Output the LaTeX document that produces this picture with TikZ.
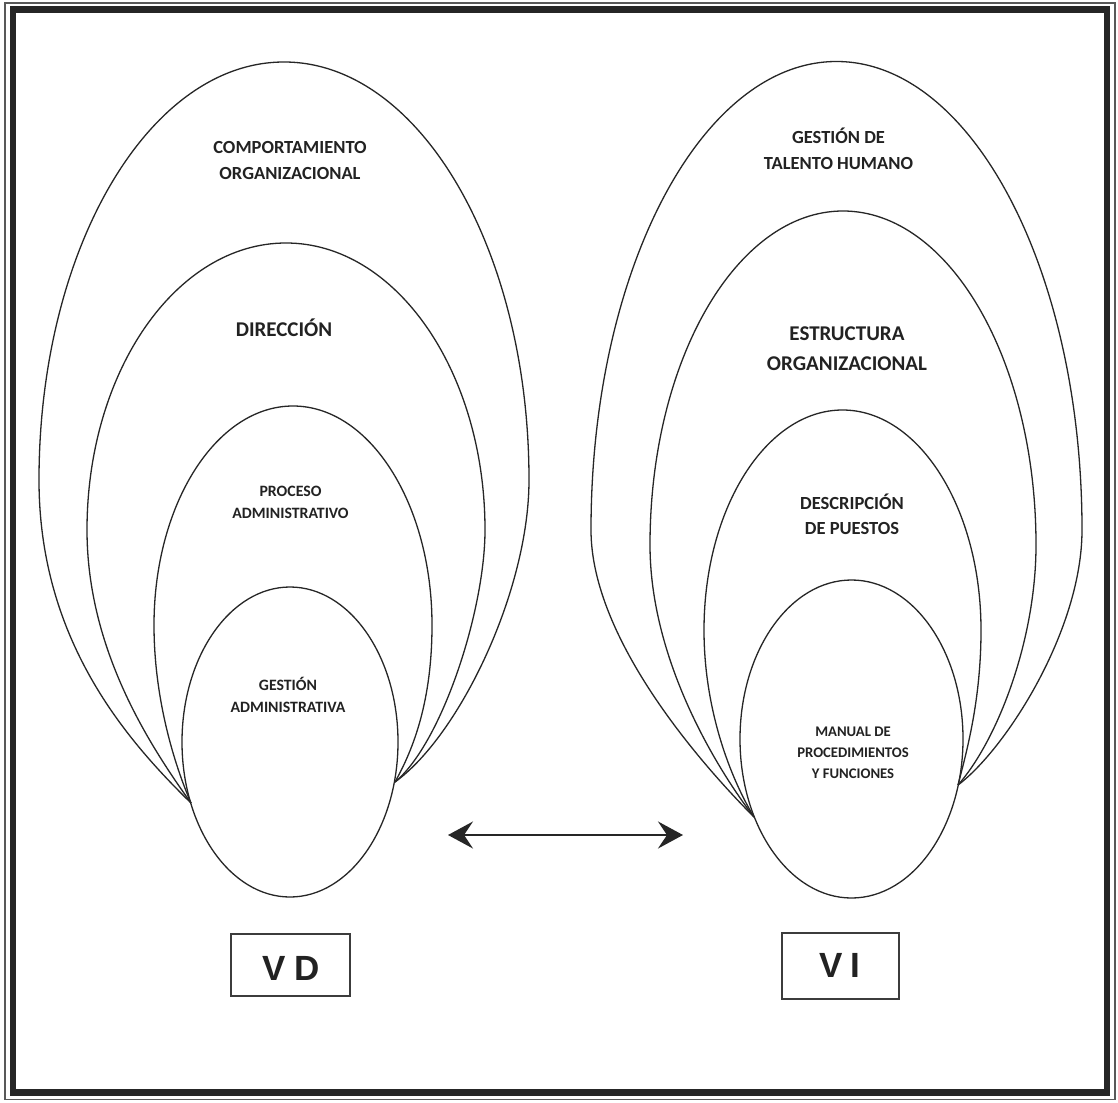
\documentclass[tikz,border=0pt]{standalone}
\usepackage{fontspec}
\setmainfont{Carlito}
\newfontfamily\vfont{Liberation Sans}
\usetikzlibrary{arrows.meta}
\definecolor{ink}{HTML}{262626}
\definecolor{txt}{HTML}{222222}
\begin{document}
\begin{tikzpicture}[x=1pt,y=-1pt,
  oval/.style={draw=ink, line width=1.3pt},
  lab/.style={anchor=base, inner sep=0pt, text=txt, font=\bfseries\fontsize{#1}{#1}\selectfont},
  vbox/.style={draw=ink!90, line width=2pt, inner sep=0pt},
  vtext/.style={inner sep=0pt, text=txt, font=\vfont\bfseries\fontsize{35}{35}\selectfont},
  dblarrow/.style={line width=2pt, draw=ink,
    arrows={Stealth[length=25pt,width=27pt,inset=9pt]-Stealth[length=25pt,width=27pt,inset=9pt]}}
]
\fill[white] (0,0) rectangle (1118,1102);
\useasboundingbox (0,0) rectangle (1118,1102);
% frame
\draw[line width=1.3pt, draw=gray!70!black] (5,3) rectangle (1115,1099.5);
\draw[line width=6.5pt, draw=ink] (13,9.5) rectangle (1107,1092.5);

% ---------- left set ----------
\draw[oval] (191,803) .. controls (126.5,740) and (39,640) .. (39,480)
  arc[start angle=180, end angle=0, x radius=245pt, y radius=418pt]
  .. controls (529,590) and (460,735) .. (395,782);
\draw[oval] (191,803) .. controls (150.4,746.3) and (87,650) .. (87,530)
  arc[start angle=180, end angle=0, x radius=199pt, y radius=287pt]
  .. controls (485,610) and (442,743) .. (395,782);
\draw[oval] (191,803) .. controls (175,766) and (154,700) .. (154,625)
  arc[start angle=180, end angle=0, x radius=139pt, y radius=219pt]
  .. controls (432,700) and (414,748) .. (395,782);
\draw[oval] (290,742) ellipse [x radius=108pt, y radius=155pt];

% ---------- right set ----------
\draw[oval] (754,817) .. controls (704,767) and (591,640) .. (591,530)
  arc[start angle=180, end angle=0, x radius=245.5pt, y radius=468.5pt]
  .. controls (1082,630) and (1006,749) .. (958,785);
\draw[oval] (754,817) .. controls (717,769) and (650,660) .. (650,545)
  arc[start angle=180, end angle=0, x radius=193pt, y radius=334pt]
  .. controls (1036,640) and (997.6,740) .. (958,785);
\draw[oval] (754,817) .. controls (730.5,778) and (704,710) .. (704,630)
  arc[start angle=180, end angle=0, x radius=138.5pt, y radius=220pt]
  .. controls (981,700) and (966.75,751) .. (958,785);
\draw[oval] (851.5,739) ellipse [x radius=111.5pt, y radius=159pt];

% ---------- labels left ----------
\node[lab=18.5] (l1a) at (290,154) {COMPORTAMIENTO};
\node[lab=18.5] (l1b) at (290,180) {ORGANIZACIONAL};
\node[lab=21]   (l2a) at (284,336) {DIRECCIÓN};
\node[lab=15.8] (l3a) at (290.5,496) {PROCESO};
\node[lab=15.8] (l3b) at (290.5,518) {ADMINISTRATIVO};
\node[lab=15.8] (l4a) at (288,690) {GESTIÓN};
\node[lab=15.8] (l4b) at (288,712) {ADMINISTRATIVA};

% ---------- labels right ----------
\node[lab=18.5] (r1a) at (838.5,144) {GESTIÓN DE};
\node[lab=18.5] (r1b) at (838.5,170) {TALENTO HUMANO};
\node[lab=21]   (r2a) at (847,340) {ESTRUCTURA};
\node[lab=21]   (r2b) at (847,370) {ORGANIZACIONAL};
\node[lab=18.5] (r3a) at (852,509) {DESCRIPCIÓN};
\node[lab=18.5] (r3b) at (852,534) {DE PUESTOS};
\node[lab=14.7] (r4a) at (853,736) {MANUAL DE};
\node[lab=14.7] (r4b) at (853,757.5) {PROCEDIMIENTOS};
\node[lab=14.7] (r4c) at (853,778) {Y FUNCIONES};

% ---------- arrow ----------
\coordinate (aL) at (448,835);
\coordinate (aR) at (683,835);
\draw[dblarrow] (aL) -- (aR);

% ---------- boxes ----------
\node[vbox, minimum width=119pt, minimum height=62pt] (vd) at (290,964.5) {};
\node[vtext] (vdt) at (291,968) {V\hspace{8pt}D};
\node[vbox, minimum width=117pt, minimum height=66pt] (vi) at (840,965.5) {};
\node[vtext] (vit) at (840,965) {V\hspace{7pt}I};
\end{tikzpicture}
\end{document}
